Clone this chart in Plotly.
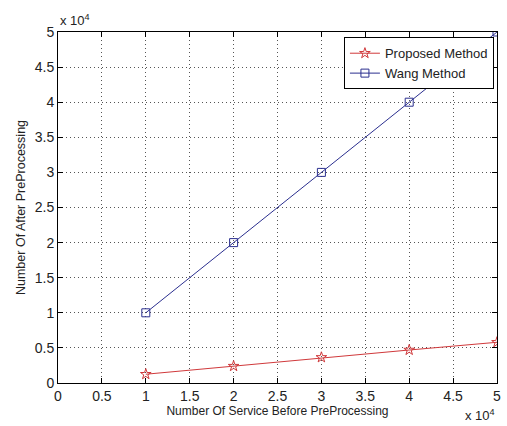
import plotly.graph_objects as go

x_vals = [10000, 20000, 30000, 40000, 50000]
proposed = [1250, 2400, 3650, 4700, 5800]
wang = [10000, 20000, 30000, 40000, 50000]
tick_vals = [0, 5000, 10000, 15000, 20000, 25000, 30000, 35000, 40000, 45000, 50000]
tick_text = ["0", "0.5", "1", "1.5", "2", "2.5", "3", "3.5", "4", "4.5", "5"]

fig = go.Figure()
fig.add_trace(go.Scatter(x=x_vals, y=proposed, mode="lines+markers", name="Proposed Method",
                         line=dict(color="#d0393b", width=1),
                         marker=dict(symbol="star-open", size=8, color="#d0393b", line=dict(width=1, color="#d0393b"))))
fig.add_trace(go.Scatter(x=x_vals, y=wang, mode="lines+markers", name="Wang Method",
                         line=dict(color="#2b2f8f", width=1),
                         marker=dict(symbol="square-open", size=8, color="#2b2f8f", line=dict(width=1, color="#2b2f8f"))))

axis_common = dict(range=[0, 50000], tickvals=tick_vals, ticktext=tick_text,
                   showgrid=True, gridcolor="#555", griddash="1px,3px", gridwidth=1,
                   showline=True, linecolor="black", linewidth=1, mirror="ticks",
                   ticks="inside", ticklen=5, tickcolor="black",
                   zeroline=False, tickfont=dict(family="Arial", size=14, color="#222"))

fig.update_xaxes(**axis_common, title=dict(text="Number Of Service Before PreProcessing",
                                           font=dict(family="Arial", size=12, color="#222"), standoff=2))
fig.update_yaxes(**axis_common, title=dict(text="Number Of After PreProcessing",
                                           font=dict(family="Arial", size=12.5, color="#222"), standoff=6))

fig.add_annotation(text="x 10<sup>4</sup>", xref="paper", yref="paper", x=0.0, y=1.0,
                   xanchor="left", yanchor="bottom", showarrow=False, yshift=2,
                   font=dict(family="Arial", size=13, color="#222"))
fig.add_annotation(text="x 10<sup>4</sup>", xref="paper", yref="paper", x=1.0, y=0.0,
                   xanchor="right", yanchor="top", showarrow=False, yshift=-22,
                   font=dict(family="Arial", size=13, color="#222"))

fig.update_layout(width=507, height=426, margin=dict(l=58, r=6, t=32, b=43),
                  paper_bgcolor="white", plot_bgcolor="white", showlegend=True,
                  legend=dict(x=0.993, y=0.985, xanchor="right", yanchor="top",
                              bgcolor="white", bordercolor="black", borderwidth=1,
                              font=dict(family="Arial", size=13, color="#222"),
                              tracegroupgap=0))

fig.write_html("out.html")
